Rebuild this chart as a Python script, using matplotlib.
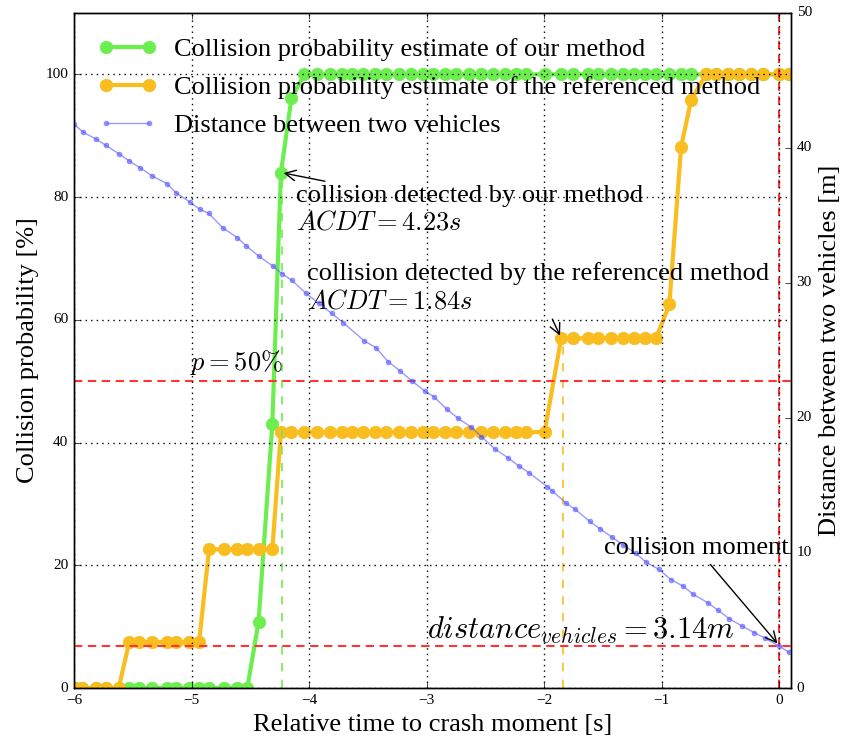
import matplotlib
matplotlib.use('Agg')
import matplotlib.pyplot as plt
import numpy as np

plt.style.use('classic')
plt.rcParams['font.family'] = 'serif'
plt.rcParams['font.serif'] = ['Liberation Serif', 'DejaVu Serif']
plt.rcParams['mathtext.fontset'] = 'cm'

# time stamps of the collision probability estimates [s]
t_prob = [-5.99, -5.93, -5.81, -5.73, -5.62,
          -5.53, -5.446, -5.333, -5.205, -5.134, -5.021, -4.936,
          -4.851, -4.728, -4.611, -4.526, -4.43, -4.313,
          -4.24, -4.15, -4.04, -3.936, -3.823, -3.724, -3.639, -3.545,
          -3.441, -3.342, -3.234, -3.129, -3.03, -2.945, -2.846, -2.747,
          -2.64, -2.534, -2.436, -2.336, -2.237, -2.152, -1.997,
          -1.855, -1.756, -1.629, -1.544, -1.43, -1.331, -1.232, -1.141, -1.048,
          -0.935, -0.835, -0.75,
          -0.623, -0.538, -0.439, -0.34, -0.24, -0.142, 0.0, 0.085]

# collision probability of our method [%]
p_ours = [0, 0, 0, 0, 0,
          0, 0, 0, 0, 0, 0, 0,
          0, 0, 0, 0, 10.8, 43.0,
          84.0, 96.1, 100, 100, 100, 100, 100, 100,
          100, 100, 100, 100, 100, 100, 100, 100,
          100, 100, 100, 100, 100, 100, 100,
          100, 100, 100, 100, 100, 100, 100, 100, 100,
          100, 100, 100,
          100, 100, 100, 100, 100, 100, 100, 100]

# collision probability of the referenced method [%]
p_ref = [0, 0, 0, 0, 0,
         7.5, 7.5, 7.5, 7.5, 7.5, 7.5, 7.5,
         22.6, 22.6, 22.6, 22.6, 22.6, 22.6,
         41.7, 41.7, 41.7, 41.7, 41.7, 41.7, 41.7, 41.7,
         41.7, 41.7, 41.7, 41.7, 41.7, 41.7, 41.7, 41.7,
         41.7, 41.7, 41.7, 41.7, 41.7, 41.7, 41.7,
         57.0, 57.0, 57.0, 57.0, 57.0, 57.0, 57.0, 57.0, 57.0,
         62.5, 88.2, 95.8,
         100, 100, 100, 100, 100, 100, 100, 100]

# distance between the two vehicles
t_dist = [-6.0, -5.92, -5.81, -5.73, -5.62, -5.53, -5.44, -5.335, -5.21, -5.13,
          -5.01, -4.93, -4.855, -4.73, -4.61, -4.535, -4.43, -4.31, -4.232, -4.147,
          -4.027, -3.92, -3.809, -3.71, -3.534, -3.432, -3.327, -3.228, -3.128, -3.016,
          -2.939, -2.831, -2.733, -2.619, -2.534, -2.422, -2.309, -2.215, -2.13, -1.974,
          -1.932, -1.818, -1.736, -1.614, -1.526, -1.421, -1.33, -1.223, -1.133, -1.025,
          -0.92, -0.816, -0.73, -0.609, -0.524, -0.425, -0.317, -0.212, -0.119, -0.006,
          0.085]
dist = [41.75, 41.16, 40.64, 40.2, 39.58, 39.04, 38.54, 37.93, 37.36, 36.67,
        35.97, 35.46, 35.16, 34.05, 33.36, 32.74, 32.0, 31.26, 30.7, 30.2,
        29.24, 28.5, 27.76, 27.06, 25.73, 25.21, 24.17, 23.5, 22.76, 22.0,
        21.58, 20.67, 19.98, 19.31, 18.62, 17.72, 17.06, 16.44, 15.95, 14.91,
        14.61, 13.72, 13.23, 12.35, 11.8, 11.16, 10.6, 10.0, 9.32, 8.79,
        8.02, 7.53, 6.93, 6.32, 5.78, 5.13, 4.59, 4.1, 3.68, 3.13,
        2.64]

acdt_ours = 4.23
acdt_ref = 1.84
p_threshold = 50
d_collision = 3.14

green = '#6cee4f'
orange = '#f9bd1f'
red = '#ff3333'
fs = 19

fig = plt.figure(figsize=(8.48, 7.45), dpi=100, facecolor='white')
ax1 = fig.add_axes([0.0873, 0.0765, 0.8455, 0.9061])
ax2 = ax1.twinx()

l1, = ax1.plot(t_prob, p_ours, '-o', color=green, mec=green, lw=3, ms=9,
               label='Collision probability estimate of our method')
l2, = ax1.plot(t_prob, p_ref, '-o', color=orange, mec=orange, lw=3, ms=9,
               label='Collision probability estimate of the referenced method')
l3, = ax2.plot(t_dist, dist, '-o', color='#5555ff', mec='#5555ff', lw=1, ms=3.5,
               alpha=0.6, label='Distance between two vehicles')

# detection moments
i_ours = int(np.argmin(np.abs(np.array(t_prob) + acdt_ours)))
i_ref = int(np.argmin(np.abs(np.array(t_prob) + acdt_ref)))
ax1.plot([-acdt_ours, -acdt_ours], [0, p_ours[i_ours]], '--', color=green, lw=1.2)
ax1.plot([-acdt_ref, -acdt_ref], [0, p_ref[i_ref]], '--', color=orange, lw=1.2)

ax1.axhline(p_threshold, ls='--', color=red, lw=1.5, dashes=(6, 4))
ax1.axvline(0, ls='--', color=red, lw=1.5, dashes=(6, 4))
ax2.axhline(d_collision, ls='--', color=red, lw=1.5, dashes=(6, 4))

ax1.set_xlim(-6, 0.1)
ax1.set_ylim(0, 110)
ax2.set_ylim(0, 50)
ax1.set_xticks([-6, -5, -4, -3, -2, -1, 0])
ax1.set_yticks([0, 20, 40, 60, 80, 100])
ax2.set_yticks([0, 10, 20, 30, 40, 50])
ax1.grid(True, color='black', ls=':', lw=1)
ax1.tick_params(labelsize=11)
ax2.tick_params(labelsize=11)

ax1.set_xlabel('Relative time to crash moment [s]', fontsize=fs)
ax1.set_ylabel('Collision probability [%]', fontsize=fs)
ax2.set_ylabel('Distance between two vehicles [m]', fontsize=fs)

ax1.annotate('collision detected by our method\n$ACDT=%.2fs$' % acdt_ours,
             xy=(t_prob[i_ours], p_ours[i_ours]), xytext=(-4.11, 77.9),
             ha='left', va='center', fontsize=fs,
             arrowprops=dict(arrowstyle='->', color='black', lw=1))
ax1.annotate('collision detected by the referenced method\n$ACDT=%.2fs$' % acdt_ref,
             xy=(t_prob[i_ref], p_ref[i_ref]), xytext=(-4.02, 65.2),
             ha='left', va='center', fontsize=fs,
             arrowprops=dict(arrowstyle='->', color='black', lw=1))
ax1.text(-5.01, 53, r'$p=%d\%%$' % p_threshold, ha='left', va='center', fontsize=fs)

ax2.annotate('collision moment', xy=(0, d_collision), xytext=(-0.705, 10.37),
             ha='center', va='center', fontsize=fs,
             arrowprops=dict(arrowstyle='->', color='black', lw=1))
ax2.text(-3.0, 3.1, r'$distance_{vehicles}=%.2fm$' % d_collision,
         ha='left', va='bottom', fontsize=22)

ax1.legend(handles=[l1, l2, l3], loc='upper left', frameon=False, fontsize=fs,
           numpoints=2, bbox_to_anchor=(0.0, 0.999), labelspacing=0.55,
           handlelength=2.25, handletextpad=0.65)

fig.savefig('out.png', dpi=100, facecolor='white')
